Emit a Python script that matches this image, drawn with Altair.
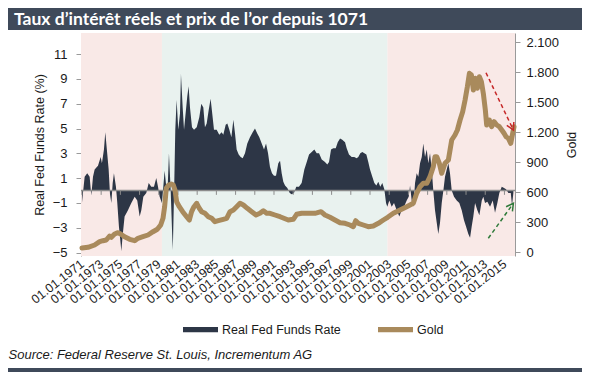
import altair as alt
import pandas as pd

TITLE = "Taux d’intérêt réels et prix de l’or depuis 1071"
SOURCE = "Source: Federal Reserve St. Louis, Incrementum AG"
SERIES = ["Real Fed Funds Rate", "Gold"]

rate_years = [1971.0, 1971.28, 1971.55, 1971.8, 1971.97, 1972.15, 1972.32, 1972.67, 1972.95, 1973.08,
              1973.29, 1973.43, 1973.64, 1973.78, 1973.92, 1974.06, 1974.2, 1974.33, 1974.54, 1974.68,
              1974.85, 1975.03, 1975.1, 1975.24, 1975.44, 1975.79, 1976.14, 1976.49, 1976.76, 1977.01,
              1977.18, 1977.39, 1977.7, 1977.95, 1978.22, 1978.5, 1978.74, 1978.92, 1979.09, 1979.33,
              1979.61, 1979.78, 1979.89, 1980.06, 1980.24, 1980.38, 1980.46, 1980.6, 1980.72, 1980.86,
              1981.03, 1981.21, 1981.31, 1981.49, 1981.63, 1981.83, 1981.97, 1982.11, 1982.25, 1982.46,
              1982.67, 1982.95, 1983.22, 1983.43, 1983.64, 1983.81, 1983.99, 1984.2, 1984.4, 1984.61,
              1984.75, 1985.03, 1985.3, 1985.55, 1985.72, 1985.97, 1986.14, 1986.35, 1986.56, 1986.77,
              1986.94, 1987.11, 1987.32, 1987.53, 1987.74, 1987.98, 1988.22, 1988.5, 1988.78, 1989.02,
              1989.26, 1989.47, 1989.72, 1989.96, 1990.17, 1990.38, 1990.58, 1990.79, 1991.0, 1991.21,
              1991.45, 1991.63, 1991.8, 1991.97, 1992.15, 1992.39, 1992.64, 1992.84, 1993.08, 1993.32,
              1993.6, 1993.88, 1994.16, 1994.41, 1994.65, 1994.93, 1995.2, 1995.45, 1995.69, 1995.97,
              1996.31, 1996.55, 1996.73, 1996.94, 1997.18, 1997.43, 1997.64, 1997.88, 1998.11, 1998.4,
              1998.57, 1998.81, 1999.09, 1999.36, 1999.61, 1999.78, 1999.99, 2000.2, 2000.41, 2000.62,
              2000.82, 2001.0, 2001.24, 2001.45, 2001.66, 2001.86, 2002.07, 2002.28, 2002.49, 2002.67,
              2002.8, 2003.01, 2003.26, 2003.5, 2003.78, 2004.05, 2004.3, 2004.54, 2004.82, 2005.03,
              2005.17, 2005.34, 2005.51, 2005.69, 2005.86, 2006.03, 2006.21, 2006.39, 2006.55, 2006.73,
              2006.91, 2007.07, 2007.25, 2007.43, 2007.59, 2007.77, 2007.95, 2008.11, 2008.29, 2008.47,
              2008.64, 2008.81, 2008.99, 2009.16, 2009.33, 2009.51, 2009.75, 2010.03, 2010.3, 2010.55,
              2010.79, 2011.0, 2011.24, 2011.42, 2011.59, 2011.76, 2011.94, 2012.18, 2012.39, 2012.64,
              2012.8, 2012.98, 2013.22, 2013.5, 2013.78, 2014.02, 2014.26, 2014.47, 2014.72, 2014.96,
              2015.17, 2015.41, 2015.66, 2015.79, 2015.93]
rate_values = [-1.0, 1.1, 1.4, 1.1, -0.4, 1.1, 1.7, 2.0, 2.7, 2.2,
               3.3, 4.7, 2.9, 1.7, -0.3, -1.0, 0.6, 1.4, 0.3, -1.0,
               -2.9, -4.3, -4.9, -3.6, -2.1, -1.6, -1.0, -0.5, -0.8, -2.1,
               -1.6, -0.5, -0.2, 0.6, 0.3, 0.3, 1.0, 0.3, -0.5, -1.0,
               1.6, 0.3, -0.5, 3.0, 0.0, -3.2, -4.8, 0.0, 4.9, 7.3,
               4.9, 6.2, 9.4, 6.7, 4.9, 6.5, 7.6, 8.4, 6.7, 5.1,
               4.9, 5.1, 5.9, 7.0, 6.7, 5.1, 5.4, 6.5, 7.4, 5.9,
               4.9, 4.9, 4.5, 4.7, 4.5, 5.3, 5.4, 4.9, 4.3, 5.7,
               4.6, 3.3, 2.9, 2.7, 2.6, 3.0, 3.8, 4.3, 4.7, 5.0,
               4.6, 4.3, 3.8, 3.3, 3.8, 3.0, 1.9, 1.4, 1.2, 1.2,
               2.2, 2.4, 1.4, 0.7, 0.4, 0.2, -0.2, -0.3, -0.2, 0.3,
               0.3, 0.6, 1.7, 2.3, 2.9, 3.1, 3.3, 3.0, 3.0, 2.5,
               2.3, 2.1, 2.3, 3.3, 3.4, 3.4, 3.9, 4.2, 4.1, 3.9,
               3.4, 2.9, 2.7, 2.7, 2.6, 2.7, 3.0, 3.1, 3.0, 2.9,
               2.3, 1.7, 1.1, 0.6, 0.4, 0.7, 0.3, 0.6, 0.1, -1.0,
               -1.3, -0.8, -1.3, -1.0, -1.6, -2.1, -1.6, -1.3, -0.8, -0.5,
               0.4, -0.8, -1.3, 0.6, 1.4, 1.1, 2.2, 2.7, 3.8, 2.7,
               3.3, 2.2, 3.0, 1.7, 0.0, -1.6, -2.6, -3.5, -2.6, -1.0,
               0.0, 1.1, 1.7, 2.2, 1.4, 0.0, -0.5, -0.8, -1.0, -1.6,
               -2.4, -2.9, -3.5, -3.8, -2.9, -2.1, -1.0, -1.6, -2.0, -0.8,
               -0.5, -1.0, -0.9, -1.3, -0.8, -1.8, -1.0, -0.2, 0.3, 0.2,
               0.1, -0.2, -0.2, -1.2, -0.2]

gold_years = [1971.0, 1971.63, 1972.32, 1972.84, 1973.19, 1973.53, 1973.88, 1974.06, 1974.4, 1974.75,
              1975.03, 1975.44, 1975.97, 1976.49, 1976.83, 1977.35, 1977.88, 1978.4, 1978.85, 1979.2,
              1979.44, 1979.61, 1979.78, 1980.03, 1980.3, 1980.51, 1980.69, 1980.86, 1981.14, 1981.49,
              1981.9, 1982.18, 1982.42, 1982.67, 1982.95, 1983.22, 1983.47, 1983.81, 1984.16, 1984.51,
              1984.85, 1985.2, 1985.72, 1986.07, 1986.42, 1986.77, 1987.11, 1987.46, 1987.81, 1988.22,
              1988.68, 1989.13, 1989.54, 1989.89, 1990.24, 1990.58, 1991.1, 1991.63, 1992.49, 1993.01,
              1993.36, 1993.88, 1994.57, 1995.27, 1995.9, 1996.31, 1996.83, 1997.35, 1997.88, 1998.4,
              1998.92, 1999.26, 1999.51, 1999.78, 2000.3, 2000.82, 2001.34, 2001.87, 2002.39, 2002.84,
              2003.43, 2004.13, 2004.82, 2005.51, 2005.86, 2006.21, 2006.55, 2006.91, 2007.25, 2007.59,
              2007.77, 2007.95, 2008.22, 2008.47, 2008.81, 2009.16, 2009.51, 2009.85, 2010.1, 2010.38,
              2010.65, 2010.9, 2011.14, 2011.35, 2011.56, 2011.76, 2011.97, 2012.18, 2012.39, 2012.6,
              2012.8, 2013.01, 2013.15, 2013.43, 2013.67, 2013.92, 2014.2, 2014.47, 2014.72, 2014.96,
              2015.17, 2015.41, 2015.66, 2015.86, 2016.0]
gold_values = [40, 47, 70, 103, 113, 120, 160, 147, 180, 193,
               180, 153, 127, 113, 137, 153, 170, 203, 227, 270,
               337, 453, 637, 670, 680, 670, 620, 503, 453, 403,
               353, 320, 403, 453, 487, 437, 403, 387, 353, 337,
               303, 313, 327, 337, 403, 420, 453, 487, 470, 437,
               403, 370, 387, 413, 387, 387, 370, 353, 320, 327,
               377, 387, 387, 387, 403, 370, 347, 320, 293, 287,
               270, 253, 313, 287, 270, 253, 260, 287, 320, 347,
               387, 420, 453, 487, 587, 653, 687, 687, 753, 853,
               953, 953, 887, 787, 887, 920, 1120, 1170, 1220, 1320,
               1403, 1520, 1653, 1787, 1770, 1620, 1737, 1637, 1753, 1703,
               1587, 1420, 1270, 1320, 1253, 1303, 1270, 1253, 1220, 1187,
               1153, 1137, 1087, 1187, 1253]

tick_years = [1971, 1973, 1975, 1977, 1979, 1981, 1983, 1985, 1987, 1989, 1991, 1993,
              1995, 1997, 1999, 2001, 2003, 2005, 2007, 2009, 2011, 2013, 2015]
rate_ticks = [-5, -3, -1, 1, 3, 5, 7, 9, 11]
gold_ticks = [0, 300, 600, 900, 1200, 1500, 1800, 2100]

pink_start = [1970.9, 2002.8]
pink_end = [1979.33, 2016.1]
green_start = [1979.33]
green_end = [2002.8]

red_arrow_from = [2013.08, 1793]
red_arrow_to = [2015.93, 1220]
green_arrow_from = [2013.32, 137]
green_arrow_to = [2015.93, 487]

# styles
DARK = "#2d3646"
GOLD = "#a98a5c"
PINK = "#f9e9e7"
GREEN = "#e9f2ef"
BAR = "#3f4a5a"
AXIS = "#9a9a9a"
TEXT = "#1a1a1a"
RED = "#c62828"
DGREEN = "#2f7a3a"
FONT = "Liberation Sans"

X_DOMAIN = [1970.9, 2016.1]
RATE_DOMAIN = [-5.28, 12.7]
GOLD_DOMAIN = [-40, 2190]

rate_df = pd.DataFrame({"year": rate_years, "rate": rate_values, "series": SERIES[0]})
gold_df = pd.DataFrame({"year": gold_years, "gold": gold_values})
ticks_df = pd.DataFrame({"year": tick_years})
pink_df = pd.DataFrame({"start": pink_start, "end": pink_end})
green_df = pd.DataFrame({"start": green_start, "end": green_end})
one = pd.DataFrame({"k": [0]})
red_df = pd.DataFrame({"x": [red_arrow_from[0]], "y": [red_arrow_from[1]],
                       "x2": [red_arrow_to[0]], "y2": [red_arrow_to[1]]})
grn_df = pd.DataFrame({"x": [green_arrow_from[0]], "y": [green_arrow_from[1]],
                       "x2": [green_arrow_to[0]], "y2": [green_arrow_to[1]]})

xscale = alt.Scale(domain=X_DOMAIN, nice=False, zero=False)
rscale = alt.Scale(domain=RATE_DOMAIN, nice=False, zero=False)
gscale = alt.Scale(domain=GOLD_DOMAIN, nice=False, zero=False)

xaxis = alt.Axis(values=tick_years, labelExpr="'01.01.' + datum.value",
                 labelAngle=322, labelAlign="right", labelBaseline="middle",
                 labelPadding=6, labelFlush=False, labelOverlap=False,
                 labelFontSize=12.5, domain=False, ticks=False, grid=False,
                 title=SOURCE, titleX=-73, titleY=102, titleAnchor="start",
                 titleAlign="left", titleBaseline="alphabetic",
                 titleFontStyle="italic", titleFontWeight="normal", titleFontSize=13)
raxis = alt.Axis(orient="left", values=rate_ticks, title="Real Fed Funds Rate (%)",
                 grid=False, tickSize=5, labelPadding=9, labelFlush=False, labelOverlap=False,
                 domainColor=AXIS, tickColor=AXIS, labelFontSize=13,
                 titleFontSize=12.5, titleFontWeight="normal", titlePadding=6)
gaxis = alt.Axis(orient="right", values=gold_ticks,
                 labelExpr="replace(format(datum.value, ','), ',', '.')",
                 title="Gold", titleAngle=270, titleBaseline="top",
                 grid=False, tickSize=5, labelPadding=6, labelFlush=False, labelOverlap=False,
                 domainColor=AXIS, tickColor=AXIS, labelFontSize=13,
                 titleFontSize=12.5, titleFontWeight="normal", titlePadding=7)

# decorative frame bars (title band / bottom band)
title_bar = alt.Chart(one).mark_rect(color=BAR).encode(
    x=alt.value(-73), x2=alt.value(501), y=alt.value(-25), y2=alt.value(-3))
bottom_bar = alt.Chart(one).mark_rect(color=BAR).encode(
    x=alt.value(-73), x2=alt.value(501), y=alt.value(335), y2=alt.value(339))

pink = alt.Chart(pink_df).mark_rect(color=PINK).encode(
    x=alt.X("start:Q", scale=xscale, axis=xaxis), x2="end:Q")
green = alt.Chart(green_df).mark_rect(color=GREEN).encode(
    x=alt.X("start:Q", scale=xscale, axis=xaxis), x2="end:Q")

area = alt.Chart(rate_df).mark_area(opacity=1).encode(
    x=alt.X("year:Q", scale=xscale, axis=xaxis),
    y=alt.Y("rate:Q", scale=rscale, axis=raxis),
    y2=alt.datum(0),
    color=alt.Color("series:N", scale=alt.Scale(domain=SERIES, range=[DARK, GOLD]),
                    legend=alt.Legend(orient="none", legendX=102, legendY=279,
                                      direction="horizontal", title=None,
                                      symbolType="M-1,-0.15H1V0.15H-1Z", symbolSize=1225,
                                      symbolStrokeWidth=0, labelFontSize=12.5,
                                      labelFont=FONT, labelColor=TEXT,
                                      columnPadding=37, labelOffset=4)),
)

zero_line = alt.Chart(one).mark_rule(color="#8c8c8c", strokeWidth=1.3).encode(
    y=alt.Y(datum=0, scale=rscale, axis=raxis))
zero_ticks = alt.Chart(ticks_df).mark_rule(color="#8c8c8c", strokeWidth=1).encode(
    x=alt.X("year:Q", scale=xscale, axis=xaxis),
    y=alt.Y(datum=0, scale=rscale, axis=raxis), y2=alt.datum(-0.35))

left = alt.layer(title_bar, bottom_bar, pink, green, area, zero_line, zero_ticks)

gold_line = alt.Chart(gold_df).mark_line(color=GOLD, strokeWidth=5, strokeCap="round",
                                         strokeJoin="round").encode(
    x=alt.X("year:Q", scale=xscale, axis=xaxis),
    y=alt.Y("gold:Q", scale=gscale, axis=gaxis),
)

def arrow(df, col, angle):
    line = alt.Chart(df).mark_rule(color=col, strokeDash=[4, 3], strokeWidth=1.5).encode(
        x=alt.X("x:Q", scale=xscale, axis=xaxis), x2="x2:Q",
        y=alt.Y("y:Q", scale=gscale, axis=gaxis), y2="y2:Q")
    head = alt.Chart(df).mark_point(shape="M-0.55,1L0,0L0.55,1", filled=False, size=200,
                                    strokeWidth=1.5, color=col, opacity=1,
                                    angle=angle).encode(
        x=alt.X("x2:Q", scale=xscale, axis=xaxis),
        y=alt.Y("y2:Q", scale=gscale, axis=gaxis))
    return line + head

right = alt.layer(gold_line, arrow(red_df, RED, 154.5), arrow(grn_df, DGREEN, 35.5))

chart = alt.layer(left, right).resolve_scale(y="independent").properties(
    width=434, height=223,
    padding={"left": 73, "top": 25, "right": 67, "bottom": 116},
    autosize=alt.AutoSizeParams(type="none"),
    title=alt.TitleParams(TITLE, anchor="start", frame="group", dx=-67, offset=-34.5,
                          baseline="alphabetic", color="white", font="Lato",
                          fontSize=17.5, fontWeight="bold"),
).configure(background="white").configure_view(stroke=None).configure_axis(
    labelFont=FONT, titleFont=FONT, labelColor=TEXT, titleColor=TEXT)

chart.save("out.html", embed_options={"renderer": "svg", "actions": False})
